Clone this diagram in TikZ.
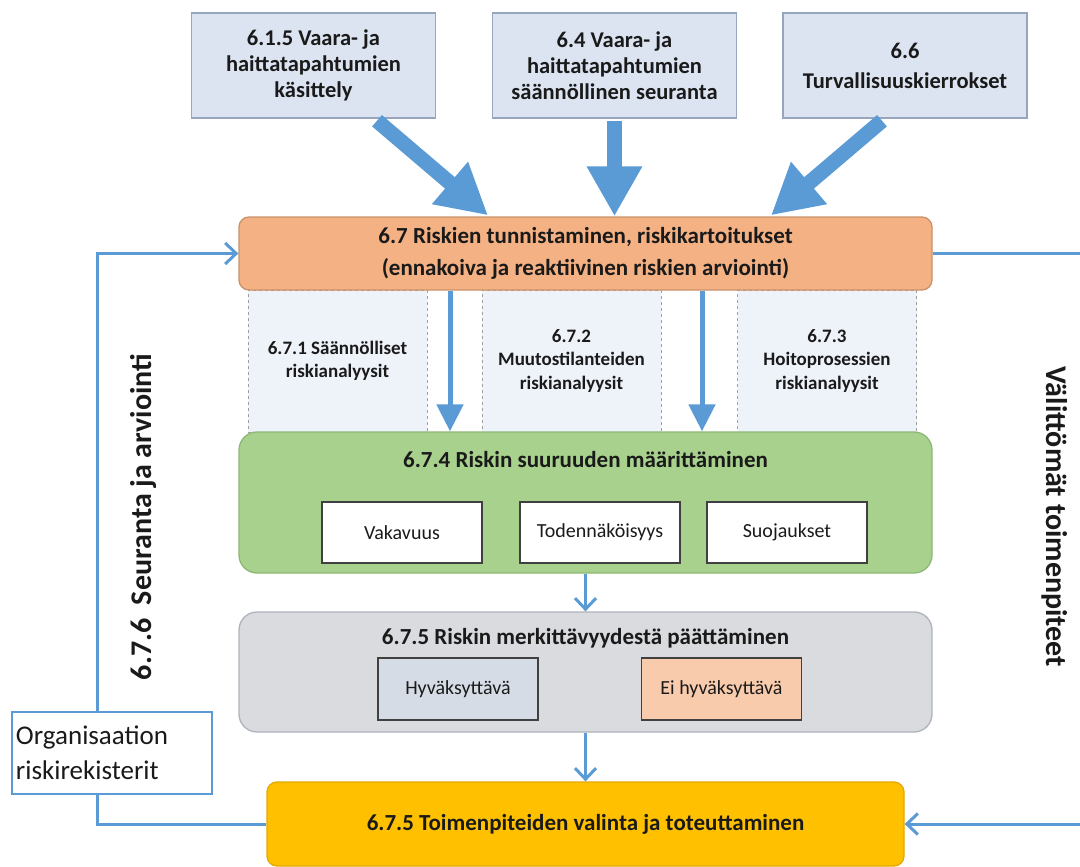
\documentclass[tikz,border=0pt]{standalone}
\usepackage{fontspec}
\setmainfont{Carlito}
\usetikzlibrary{arrows.meta,calc}
\definecolor{ablue}{HTML}{5B9BD5}
\definecolor{topfill}{HTML}{DCE4F2}
\definecolor{topdraw}{HTML}{97A6BC}
\definecolor{orfill}{HTML}{F4B183}
\definecolor{ordraw}{HTML}{C9916A}
\definecolor{colfill}{HTML}{EEF2F9}
\definecolor{grfill}{HTML}{A9D18E}
\definecolor{grdraw}{HTML}{8DB873}
\definecolor{gyfill}{HTML}{D9DBDF}
\definecolor{gydraw}{HTML}{AEB4BC}
\definecolor{hyfill}{HTML}{D6DCE5}
\definecolor{eifill}{HTML}{F8CBAD}
\definecolor{yefill}{HTML}{FFC000}
\definecolor{yedraw}{HTML}{E3A900}
\definecolor{boxline}{HTML}{404040}
\definecolor{txt}{HTML}{1A1A1A}
\begin{document}
\begin{tikzpicture}[x=1pt,y=-1pt,text=txt,
  topbox/.style={draw=topdraw,line width=1.5pt,fill=topfill,minimum width=244pt,minimum height=105pt,align=center,font=\fontsize{22.5}{26}\selectfont\bfseries,inner sep=0pt},
  colbox/.style={draw=gray!75,dashed,line width=0.8pt,fill=colfill,minimum width=179pt,minimum height=142pt,align=center,font=\fontsize{19}{23.5}\selectfont\bfseries,inner sep=0pt},
  bigbox/.style={line width=1.3pt,minimum width=693pt,inner sep=0pt,align=center},
  whitebox/.style={draw=boxline,line width=1.8pt,fill=white,minimum width=160pt,minimum height=61pt,font=\fontsize{20}{24}\selectfont,inner sep=0pt},
  titletext/.style={font=\fontsize{23}{27}\selectfont\bfseries,inner sep=0pt},
  bigarrow/.style={draw=ablue,line width=15pt,-{Triangle[width=52pt,length=50pt]}},
  gaparrow/.style={draw=ablue,line width=5pt,-{Triangle[width=26pt,length=27pt]}},
  thinarrow/.style={draw=ablue,line width=3pt,-{Straight Barb[length=11pt,width=21pt]}},
  sidetext/.style={font=\fontsize{30}{34}\selectfont\bfseries,inner sep=0pt}
]
\useasboundingbox[fill=white] (0,0) rectangle (1080,867);

% top boxes
\node[topbox] (top1) at (313.5,65.5) {6.1.5 Vaara- ja\\haittatapahtumien\\käsittely};
\node[topbox] (top2) at (614.5,65.5) {6.4 Vaara- ja\\haittatapahtumien\\säännöllinen seuranta};
\node[topbox] (top3) at (905,65.5) {6.6\\[4pt]Turvallisuuskierrokset};

% dashed columns
\node[colbox] (col1) at (337.5,361) {6.7.1 Säännölliset\\riskianalyysit};
\node[colbox] (col2) at (571.5,361) {6.7.2\\Muutostilanteiden\\riskianalyysit};
\node[colbox] (col3) at (827,361) {6.7.3\\Hoitoprosessien\\riskianalyysit};

% orange
\node[bigbox,draw=ordraw,fill=orfill,rounded corners=10pt,minimum height=73pt,font=\fontsize{23}{32}\selectfont\bfseries] (orange) at (585.5,253.5)
  {6.7 Riskien tunnistaminen, riskikartoitukset\\(ennakoiva ja reaktiivinen riskien arviointi)};

% green
\node[bigbox,draw=grdraw,fill=grfill,rounded corners=18pt,minimum height=141pt] (green) at (585.5,502.5) {};
\node[titletext] (greentitle) at (585.5,460) {6.7.4 Riskin suuruuden määrittäminen};
\node[whitebox] (vak) at (402,532.5) {Vakavuus};
\node[whitebox] (tod) at (600,532.5) {Todennäköisyys};
\node[whitebox] (suo) at (787,532.5) {Suojaukset};

% gray
\node[bigbox,draw=gydraw,fill=gyfill,rounded corners=18pt,minimum height=120pt] (gray) at (585.5,672) {};
\node[titletext] (graytitle) at (585.5,638) {6.7.5 Riskin merkittävyydestä päättäminen};
\node[whitebox,fill=hyfill,minimum height=62pt] (hyv) at (458,689) {Hyväksyttävä};
\node[whitebox,fill=eifill,minimum height=62pt] (ei) at (721.5,689) {Ei hyväksyttävä};

% yellow
\node[bigbox,draw=yedraw,fill=yefill,rounded corners=10pt,minimum width=637pt,minimum height=84pt,font=\fontsize{23}{27}\selectfont\bfseries] (yellow) at (585.5,824)
  {6.7.5 Toimenpiteiden valinta ja toteuttaminen};

% big arrows
\draw[bigarrow] ($(top1.south)+(63.5,2)$) -- ($(orange.north)+(-97.5,-1)$);
\draw[bigarrow] ($(top2.south)+(0,2)$) -- (orange.north -| top2.south);
\draw[bigarrow] ($(top3.south)+(-23,2)$) -- ($(orange.north)+(185.5,-1)$);

% gap arrows
\coordinate (g1) at (450,0);
\coordinate (g2) at (702,0);
\draw[gaparrow] (orange.south -| g1) -- (green.north -| g1);
\draw[gaparrow] (orange.south -| g2) -- (green.north -| g2);

% thin arrows
\draw[thinarrow] (green.south) -- (gray.north);
\draw[thinarrow] (gray.south) -- (yellow.north);

% left loop
\coordinate (lc) at (97,0);
\draw[thinarrow] (yellow.west) -- (yellow.west -| lc) -- (orange.west -| lc) -- (orange.west);
\node[draw=ablue,line width=2.5pt,fill=white,minimum width=200pt,minimum height=82pt,align=left,font=\fontsize{27}{35}\selectfont,inner sep=0pt,text width=192pt] (org) at (112,753) {Organisaation\\riskirekisterit};

% right loop
\coordinate (rc) at (1086,0);
\draw[thinarrow] (orange.east) -- (orange.east -| rc) -- (yellow.east -| rc) -- (yellow.east);

% side texts
\node[sidetext,rotate=90] (lefttext) at (143,517) {6.7.6\hspace{0.45em}Seuranta ja arviointi};
\node[sidetext,rotate=-90] (righttext) at (1055,517) {Välittömät toimenpiteet};
\end{tikzpicture}
\end{document}
